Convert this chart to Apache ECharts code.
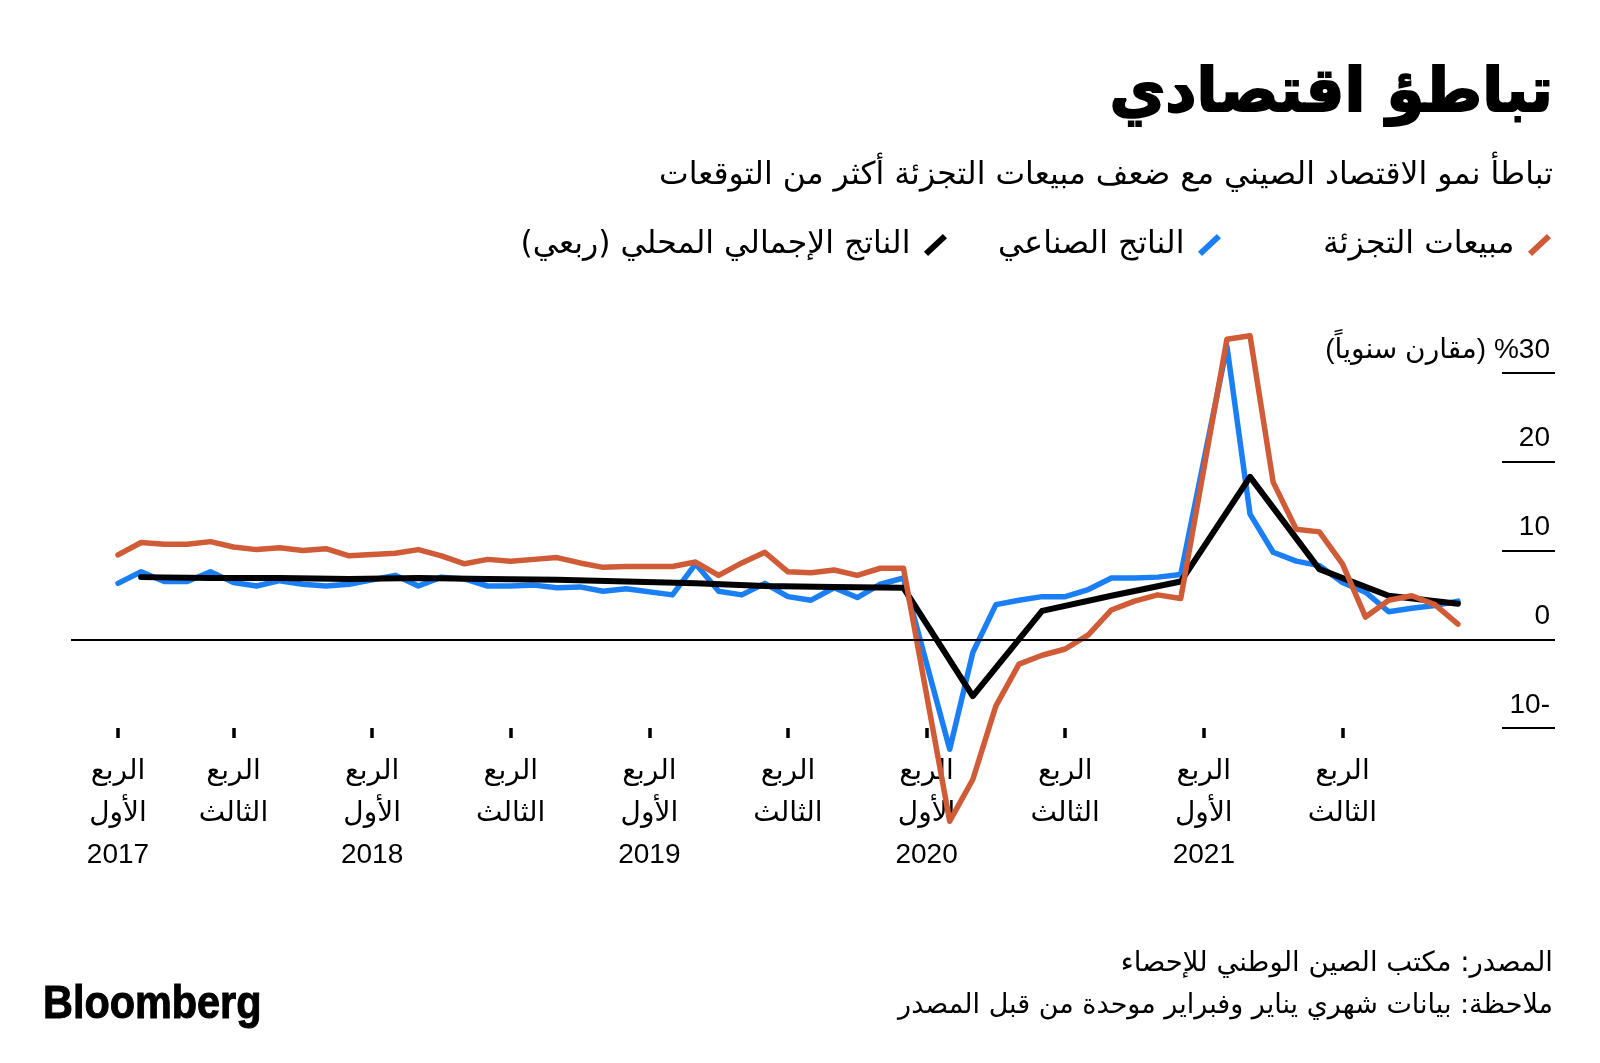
<!DOCTYPE html>
<html>
<head>
<meta charset="utf-8">
<script src="https://cdn.jsdelivr.net/npm/echarts@6/dist/echarts.min.js"></script>
<style>
html,body{margin:0;padding:0;background:#fff;}
#chart{width:1600px;height:1063px;}
</style>
</head>
<body>
<div id="chart"></div>
<script>
// ---- data ----
const months = [
 '2017-01','2017-02','2017-03','2017-04','2017-05','2017-06','2017-07','2017-08','2017-09','2017-10','2017-11','2017-12',
 '2018-01','2018-02','2018-03','2018-04','2018-05','2018-06','2018-07','2018-08','2018-09','2018-10','2018-11','2018-12',
 '2019-01','2019-02','2019-03','2019-04','2019-05','2019-06','2019-07','2019-08','2019-09','2019-10','2019-11','2019-12',
 '2020-01','2020-02','2020-03','2020-04','2020-05','2020-06','2020-07','2020-08','2020-09','2020-10','2020-11','2020-12',
 '2021-01','2021-02','2021-03','2021-04','2021-05','2021-06','2021-07','2021-08','2021-09','2021-10','2021-11','2021-12'
];
// January figures are combined with February by the source (null = no separate point)
const retailSales = [
 null, 9.5, 10.9, 10.7, 10.7, 11.0, 10.4, 10.1, 10.3, 10.0, 10.2, 9.4,
 null, 9.7, 10.1, 9.4, 8.5, 9.0, 8.8, 9.0, 9.2, 8.6, 8.1, 8.2,
 null, 8.2, 8.7, 7.2, 8.6, 9.8, 7.6, 7.5, 7.8, 7.2, 8.0, 8.0,
 null, -20.5, -15.8, -7.5, -2.8, -1.8, -1.1, 0.5, 3.3, 4.3, 5.0, 4.6,
 null, 33.8, 34.2, 17.7, 12.4, 12.1, 8.5, 2.5, 4.4, 4.9, 3.9, 1.7
];
const industrialOutput = [
 null, 6.3, 7.6, 6.5, 6.5, 7.6, 6.4, 6.0, 6.6, 6.2, 6.0, 6.2,
 null, 7.2, 6.0, 7.0, 6.8, 6.0, 6.0, 6.1, 5.8, 5.9, 5.4, 5.7,
 null, 5.0, 8.5, 5.4, 5.0, 6.3, 4.8, 4.4, 5.8, 4.7, 6.2, 6.9,
 null, -12.4, -1.5, 3.9, 4.4, 4.8, 4.8, 5.6, 6.9, 6.9, 7.0, 7.3,
 null, 33.0, 14.1, 9.8, 8.8, 8.3, 6.4, 5.3, 3.1, 3.5, 3.8, 4.3
];
const gdpMonths = [
 '2017-03','2017-06','2017-09','2017-12',
 '2018-03','2018-06','2018-09','2018-12',
 '2019-03','2019-06','2019-09','2019-12',
 '2020-03','2020-06','2020-09','2020-12',
 '2021-03','2021-06','2021-09','2021-12'
];
const gdpQuarterly = [
 7.0, 6.9, 6.9, 6.8,
 6.9, 6.8, 6.7, 6.5,
 6.3, 6.0, 5.9, 5.8,
 -6.4, 3.2, 4.9, 6.5,
 18.3, 7.9, 4.9, 4.0
];
const tickMonths = ['2017-02','2017-07','2018-01','2018-07','2019-01','2019-07','2020-01','2020-07','2021-01','2021-07'];
const tickLabels = [
 'الربع\nالأول\n2017','الربع\nالثالث','الربع\nالأول\n2018','الربع\nالثالث',
 'الربع\nالأول\n2019','الربع\nالثالث','الربع\nالأول\n2020','الربع\nالثالث',
 'الربع\nالأول\n2021','الربع\nالثالث'
];
const yTicks = [-10, 0, 10, 20, 30];
const seriesNames = ['مبيعات التجزئة', 'الناتج الصناعي', 'الناتج الإجمالي المحلي (ربعي)'];
const colors = ['#cf5b37', '#1a7ef5', '#000000'];
const titleText = 'تباطؤ اقتصادي';
const subtitleText = 'تباطأ نمو الاقتصاد الصيني مع ضعف مبيعات التجزئة أكثر من التوقعات';
const yUnitText = 'مقارن سنوياً';
const sourceText = 'المصدر: مكتب الصين الوطني للإحصاء';
const noteText = 'ملاحظة: بيانات شهري يناير وفبراير موحدة من قبل المصدر';

// ---- helpers ----
const rtl = s => '\u202B' + s + '\u202C';
const toPairs = arr => arr.map((v, i) => v == null ? null : [i, v]).filter(p => p);
const gdpPairs = gdpMonths.map((m, k) => [months.indexOf(m), gdpQuarterly[k]]);
const tickValues = tickMonths.map(m => months.indexOf(m));

const AR = "'DejaVu Sans', sans-serif";
const NUM = "'Liberation Sans', 'DejaVu Sans', sans-serif";

const chart = echarts.init(document.getElementById('chart'), null, {renderer: 'canvas'});

function legendFor(i, right) {
  return {
    show: true,
    data: [seriesNames[i]],
    right: right,
    top: 221,
    orient: 'horizontal',
    align: 'right',
    selectedMode: false,
    icon: 'path://M0.75,15.7 L16.75,0.7 L20.25,4.3 L4.25,19.3 Z',
    itemWidth: 24,
    itemHeight: 22,
    formatter: n => rtl(n),
    textStyle: {fontFamily: AR, fontSize: 31.5, color: '#000', lineHeight: 38, padding: [0, 8, 0, 0]}
  };
}

const option = {
  backgroundColor: '#ffffff',
  animation: false,
  grid: {left: 71, right: 45, top: 373, bottom: 335, containLabel: false, outerBoundsMode: 'none'},
  legend: [legendFor(0, 44), legendFor(1, 374), legendFor(2, 648)],
  xAxis: {
    type: 'value',
    min: -1.034,
    max: 63.2,
    axisLine: {show: false, onZero: false},
    splitLine: {show: false},
    axisTick: {show: true, customValues: tickValues, length: 10, lineStyle: {color: '#000', width: 3.5}},
    axisLabel: {
      show: true,
      customValues: tickValues,
      margin: 22,
      fontFamily: NUM,
      fontSize: 28,
      lineHeight: 42,
      color: '#000',
      align: 'center',
      formatter: v => { const k = tickValues.indexOf(v); return k >= 0 ? tickLabels[k] : ''; }
    }
  },
  yAxis: {
    type: 'value',
    position: 'right',
    min: -10,
    max: 30,
    interval: 10,
    axisLine: {show: false, onZero: false},
    splitLine: {show: false},
    axisTick: {show: true, inside: true, length: 53, lineStyle: {color: '#000', width: 2}},
    axisLabel: {
      show: true,
      inside: true,
      margin: 5,
      fontFamily: NUM,
      fontSize: 28,
      color: '#000',
      verticalAlign: 'bottom',
      padding: [0, 0, 9, 0],
      formatter: v => v === 30 ? rtl('%30 (' + yUnitText + ')') : (v < 0 ? (-v) + '-' : String(v))
    }
  },
  series: [
    {
      name: seriesNames[1], type: 'line', z: 2, data: toPairs(industrialOutput), clip: false,
      showSymbol: false, symbol: 'none', color: colors[1],
      lineStyle: {color: colors[1], width: 5.5, join: 'round', cap: 'round'},
      markLine: {
        silent: true, symbol: ['none', 'none'], label: {show: false},
        lineStyle: {color: '#000', width: 2, type: 'solid'},
        data: [{yAxis: 0}]
      }
    },
    {
      name: seriesNames[2], type: 'line', z: 3, data: gdpPairs, clip: false,
      showSymbol: false, symbol: 'none', color: colors[2],
      lineStyle: {color: colors[2], width: 6, join: 'round', cap: 'round'}
    },
    {
      name: seriesNames[0], type: 'line', z: 4, data: toPairs(retailSales), clip: false,
      showSymbol: false, symbol: 'none', color: colors[0],
      lineStyle: {color: colors[0], width: 5.5, join: 'round', cap: 'round'}
    }
  ],
  graphic: [
    {type: 'text', x: 1553, y: 95, style: {text: rtl(titleText), font: "bold 61px 'DejaVu Sans'", fill: '#000', stroke: '#000', lineWidth: 2, align: 'right', verticalAlign: 'middle'}},
    {type: 'text', x: 1553, y: 176, style: {text: rtl(subtitleText), font: "31.5px 'DejaVu Sans'", fill: '#000', align: 'right', verticalAlign: 'middle'}},
    {type: 'text', x: 1553, y: 964, style: {text: rtl(sourceText), font: "27.5px 'DejaVu Sans'", fill: '#000', align: 'right', verticalAlign: 'middle'}},
    {type: 'text', x: 1553, y: 1006, style: {text: rtl(noteText), font: "27px 'DejaVu Sans'", fill: '#000', align: 'right', verticalAlign: 'middle'}},
    {type: 'text', x: 43, y: 1005, scaleX: 0.9, style: {text: 'Bloomberg', font: "bold 46px 'Liberation Sans'", fill: '#000', stroke: '#000', lineWidth: 1, align: 'left', verticalAlign: 'middle'}}
  ]
};
chart.setOption(option);
</script>
</body>
</html>
